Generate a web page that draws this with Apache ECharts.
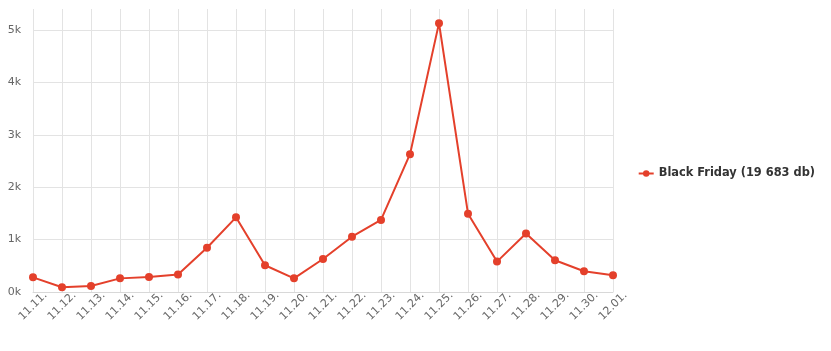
<!DOCTYPE html>
<html><head><meta charset="utf-8">
<script src="https://cdn.jsdelivr.net/npm/echarts@6/dist/echarts.min.js"></script>
<style>html,body{margin:0;padding:0;background:#fff}#c{width:831px;height:351px}</style>
</head><body><div id="c"></div>
<script>
const categories = ['11.11.','11.12.','11.13.','11.14.','11.15.','11.16.','11.17.','11.18.','11.19.','11.20.','11.21.','11.22.','11.23.','11.24.','11.25.','11.26.','11.27.','11.28.','11.29.','11.30.','12.01.'];
const values = [280,90,115,260,285,335,845,1425,510,260,630,1055,1375,2630,5130,1495,580,1115,605,395,320];
const seriesName = 'Black Friday (19 683 db)';
const yTicks = [0,1000,2000,3000,4000,5000];

const chart = echarts.init(document.getElementById('c'), null, {renderer:'canvas'});
const font = 'DejaVu Sans';
const gridColors = yTicks.map(()=> '#e3e3e3').concat(['rgba(0,0,0,0)']);
chart.setOption({
  animation:false,
  grid:{left:33,right:218,top:9,bottom:59,containLabel:false},
  legend:{
    orient:'vertical', right:11, top:163,
    itemWidth:15, itemHeight:8, itemGap:6,
    textStyle:{fontFamily:font,fontWeight:'bold',fontSize:11.4,color:'#333'},
    data:[seriesName]
  },
  xAxis:{
    type:'category', data:categories, boundaryGap:false,
    axisLine:{show:true,lineStyle:{color:'#d8d8d8',width:1}},
    axisTick:{show:false},
    splitLine:{show:true,lineStyle:{color:'#e3e3e3',width:1}},
    axisLabel:{interval:0,rotate:45,align:'center',verticalAlign:'middle',color:'#666',fontFamily:font,fontSize:11,margin:14}
  },
  yAxis:{
    type:'value', min:0, max:5400, interval:1000,
    axisLine:{show:false}, axisTick:{show:false},
    splitLine:{show:true,lineStyle:{color:gridColors,width:1}},
    axisLabel:{color:'#666',fontFamily:font,fontSize:11,margin:12,
      formatter:v=> yTicks.indexOf(v)>=0 ? (v/1000)+'k' : ''}
  },
  series:[{
    name:seriesName, type:'line', data:values,
    symbol:'circle', symbolSize:8,
    itemStyle:{color:'#e4402b'},
    lineStyle:{color:'#e4402b',width:2}
  }]
});
</script></body></html>
